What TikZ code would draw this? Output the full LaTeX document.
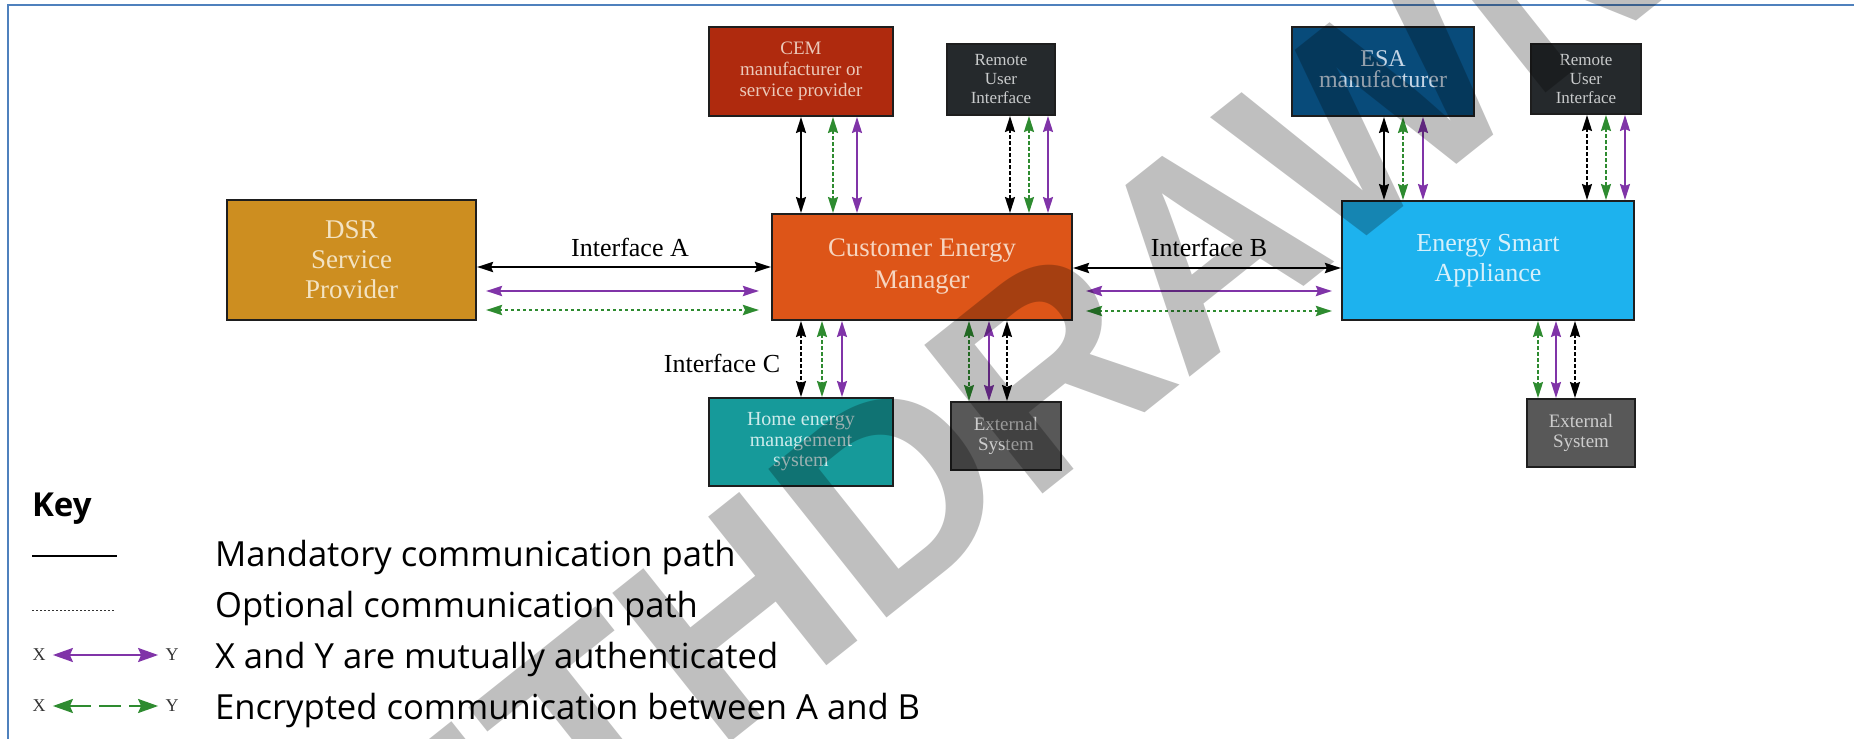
\documentclass[tikz,border=0pt]{standalone}
\usepackage{fontspec}
\setmainfont{Liberation Serif}
\newfontfamily\legendfont{Open Sans}
\newfontfamily\wmfont{Liberation Sans}
\usetikzlibrary{arrows.meta}

\definecolor{frameblue}{HTML}{4F81BD}
\definecolor{boxborder}{HTML}{1E1E1E}
\definecolor{cDSR}{HTML}{CD8E20}
\definecolor{tDSR}{HTML}{F3E3C3}
\definecolor{cCEM}{HTML}{DD5518}
\definecolor{tCEM}{HTML}{F6D5C0}
\definecolor{cESA}{HTML}{1DB2EE}
\definecolor{tESA}{HTML}{D5F0FB}
\definecolor{cCEMman}{HTML}{AF2A0E}
\definecolor{tCEMman}{HTML}{EBC9BA}
\definecolor{cRUI}{HTML}{25292C}
\definecolor{tRUI}{HTML}{C9CBCC}
\definecolor{cESAman}{HTML}{084B7A}
\definecolor{tESAman}{HTML}{C5D5E5}
\definecolor{cHEM}{HTML}{169A9A}
\definecolor{tHEM}{HTML}{CDEBEB}
\definecolor{cEXT}{HTML}{585858}
\definecolor{tEXT}{HTML}{CDCDCD}
\definecolor{cPur}{HTML}{8034A8}
\definecolor{cGrn}{HTML}{2E8B30}

\begin{document}
\begin{tikzpicture}[x=0.5pt,y=-0.5pt,
  box/.style={draw=boxborder, line width=1pt, align=center, inner sep=0pt},
  tipv/.style={>={Stealth[length=8pt,width=5pt,inset=1pt]}, <->},
  blkv/.style={tipv, line width=1pt, black},
  blkd/.style={tipv, line width=1pt, black, dash pattern=on 1.6pt off 1.4pt},
  grnd/.style={tipv, line width=1pt, cGrn, dash pattern=on 1.6pt off 1.4pt},
  purv/.style={tipv, line width=1pt, cPur},
  blkh/.style={tipv, line width=1.3pt, black},
  purh/.style={tipv, line width=1.3pt, cPur},
  grnh/.style={tipv, line width=1.3pt, cGrn, dash pattern=on 1.6pt off 1.4pt},
  iflabel/.style={font=\fontsize{13}{15}\selectfont, text=black},
  legtext/.style={anchor=base west, font=\legendfont\fontsize{17.3}{21}\selectfont, text=black},
  xy/.style={font=\fontsize{9}{10}\selectfont, text=black!80, inner sep=3.5pt},
  legtip/.style={>={Stealth[length=10pt,width=7pt,inset=1.5pt]}, <->}
]
\useasboundingbox (0,0) rectangle (1854,739);
\clip (0,0) rectangle (1854,739);

% frame
\draw[frameblue, line width=1.3pt] (1854,5) -- (8,5) -- (8,739);

% boxes
\node[box, fill=cCEMman, text=tCEMman, minimum width=92pt, minimum height=44.5pt,
  font=\fontsize{9.5}{10.5}\selectfont] (cemman) at (801,71.5) {CEM\\manufacturer or\\service provider};
\node[box, fill=cRUI, text=tRUI, minimum width=54pt, minimum height=35.5pt,
  font=\fontsize{8.5}{9.5}\selectfont] (rui1) at (1001,79.5) {Remote\\User\\Interface};
\node[box, fill=cESAman, text=tESAman, minimum width=91pt, minimum height=44.5pt,
  font=\fontsize{12}{12.5}\selectfont] (esaman) at (1383,71.5) {\raisebox{2.5pt}{\begin{tabular}{@{}c@{}}ESA\\[-2pt]manufacturer\end{tabular}}};
\node[box, fill=cRUI, text=tRUI, minimum width=55pt, minimum height=35pt,
  font=\fontsize{8.5}{9.5}\selectfont] (rui2) at (1586,79) {Remote\\User\\Interface};
\node[box, fill=cDSR, text=tDSR, minimum width=124.5pt, minimum height=60pt,
  font=\fontsize{13.5}{15}\selectfont] (dsr) at (351.5,260) {DSR\\Service\\Provider};
\node[box, fill=cCEM, text=tCEM, minimum width=150pt, minimum height=53pt,
  font=\fontsize{13.4}{16}\selectfont] (cem) at (922,267) {Customer Energy\\Manager};
\node[box, fill=cESA, text=tESA, minimum width=146pt, minimum height=59.5pt,
  font=\fontsize{13}{15.5}\selectfont] (esa) at (1488,260.5) {\raisebox{2.5pt}{\begin{tabular}{@{}c@{}}Energy Smart\\[-0.5pt]Appliance\end{tabular}}};
\node[box, fill=cHEM, text=tHEM, minimum width=92pt, minimum height=44pt,
  font=\fontsize{10}{10.25}\selectfont] (hem) at (801,442) {Home energy\\management\\system};
\node[box, fill=cEXT, text=tEXT, minimum width=55pt, minimum height=34pt,
  font=\fontsize{9.5}{10}\selectfont] (ext1) at (1006,436) {External\\System};
\node[box, fill=cEXT, text=tEXT, minimum width=54pt, minimum height=34pt,
  font=\fontsize{9.5}{10}\selectfont] (ext2) at (1581,433) {External\\System};

% interface labels
\node[iflabel] (ifA) at (630,247) {Interface A};
\node[iflabel] (ifB) at (1209,247) {Interface B};
\node[iflabel] (ifC) at (722,363) {Interface C};

% vertical connectors: CEM manufacturer <-> CEM
\draw[blkv] (cemman.south -| 801,0) -- (cem.north -| 801,0);
\draw[grnd] (cemman.south -| 833,0) -- (cem.north -| 833,0);
\draw[purv] (cemman.south -| 857,0) -- (cem.north -| 857,0);
% Remote UI 1 <-> CEM
\draw[blkd] (rui1.south -| 1010,0) -- (cem.north -| 1010,0);
\draw[grnd] (rui1.south -| 1029,0) -- (cem.north -| 1029,0);
\draw[purv] (rui1.south -| 1048,0) -- (cem.north -| 1048,0);
% ESA manufacturer <-> ESA
\draw[blkv] (esaman.south -| 1384,0) -- (esa.north -| 1384,0);
\draw[grnd] (esaman.south -| 1403,0) -- (esa.north -| 1403,0);
\draw[purv] (esaman.south -| 1423,0) -- (esa.north -| 1423,0);
% Remote UI 2 <-> ESA
\draw[blkd] (rui2.south -| 1587,0) -- (esa.north -| 1587,0);
\draw[grnd] (rui2.south -| 1606,0) -- (esa.north -| 1606,0);
\draw[purv] (rui2.south -| 1625,0) -- (esa.north -| 1625,0);
% CEM <-> HEM
\draw[blkd] (cem.south -| 801,0) -- (hem.north -| 801,0);
\draw[grnd] (cem.south -| 822,0) -- (hem.north -| 822,0);
\draw[purv] (cem.south -| 842,0) -- (hem.north -| 842,0);
% CEM <-> External 1
\draw[grnd] (cem.south -| 969,0) -- (ext1.north -| 969,0);
\draw[purv] (cem.south -| 989,0) -- (ext1.north -| 989,0);
\draw[blkd] (cem.south -| 1007,0) -- (ext1.north -| 1007,0);
% ESA <-> External 2
\draw[grnd] (esa.south -| 1538,0) -- (ext2.north -| 1538,0);
\draw[purv] (esa.south -| 1556,0) -- (ext2.north -| 1556,0);
\draw[blkd] (esa.south -| 1575,0) -- (ext2.north -| 1575,0);

% horizontal connectors: interface A
\draw[blkh] (dsr.east |- 0,267) -- (cem.west |- 0,267);
\draw[purh, shorten <=4.5pt, shorten >=6pt] (dsr.east |- 0,291) -- (cem.west |- 0,291);
\draw[grnh, shorten <=4.5pt, shorten >=6pt] (dsr.east |- 0,310) -- (cem.west |- 0,310);
% interface B
\draw[blkh] (cem.east |- 0,268) -- (esa.west |- 0,268);
\draw[purh, shorten <=6.5pt, shorten >=4.5pt] (cem.east |- 0,291) -- (esa.west |- 0,291);
\draw[grnh, shorten <=6.5pt, shorten >=4.5pt] (cem.east |- 0,311) -- (esa.west |- 0,311);

% legend
\node[anchor=base west, font=\legendfont\bfseries\fontsize{16.5}{20}\selectfont] (key) at (25,516) {Key};
\node[legtext] (l1) at (208,566) {Mandatory communication path};
\node[legtext] (l2) at (208,617) {Optional communication path};
\node[legtext] (l3) at (208,668) {X and Y are mutually authenticated};
\node[legtext] (l4) at (208,719) {Encrypted communication between A and B};

\coordinate (s1a) at (32,556);
\coordinate (s1b) at (117,556);
\draw[black, line width=0.6pt] (s1a) -- (s1b);
\coordinate (s2a) at (32,610);
\coordinate (s2b) at (116,610);
\draw[black!80, line width=0.5pt, dash pattern=on 1pt off 1pt] (s2a) -- (s2b);

\node[xy] (x3) at (39,655) {X};
\node[xy] (y3) at (172,655) {Y};
\draw[legtip, cPur, line width=1.1pt] (x3) -- (y3);
\node[xy] (x4) at (39,706) {X};
\node[xy] (y4) at (172,706) {Y};
\draw[legtip, cGrn, line width=1.1pt, dash pattern=on 11pt off 4pt] (x4) -- (y4);

% watermark
\node[rotate=38.5, text=black, text opacity=0.25, inner sep=0pt,
  font=\wmfont\bfseries\fontsize{138}{138}\selectfont] (wm) at (945,450) {WITHDRAWN};
\end{tikzpicture}
\end{document}
